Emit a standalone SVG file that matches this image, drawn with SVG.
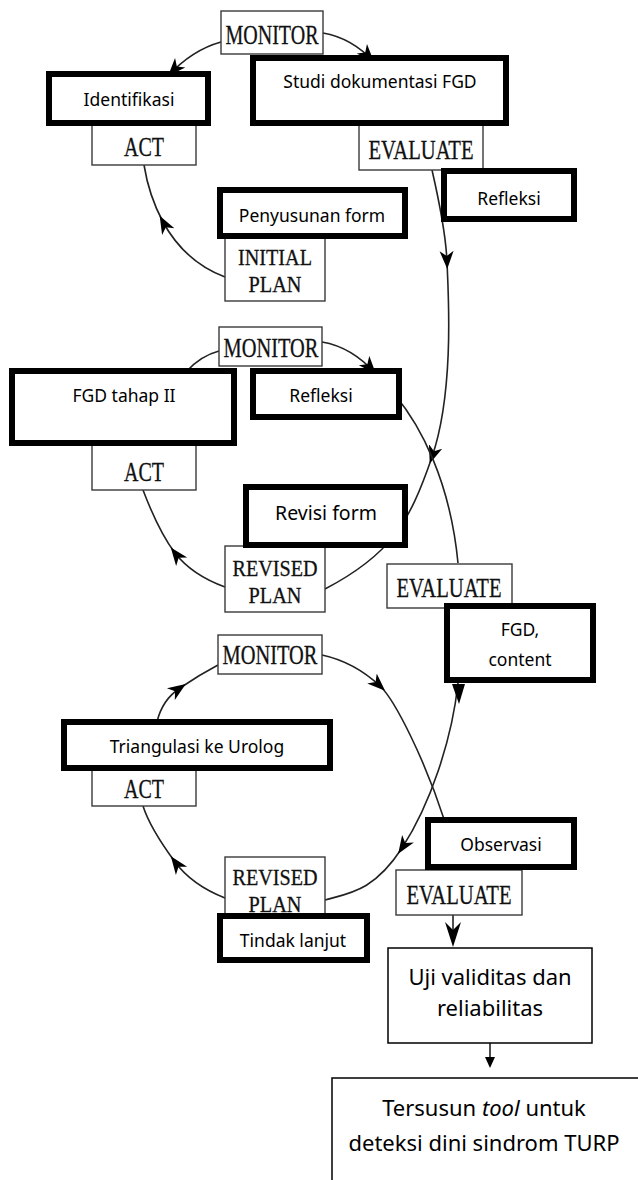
<svg xmlns="http://www.w3.org/2000/svg" width="638" height="1180" viewBox="0 0 638 1180">
<style>
.lb{fill:#fff;stroke:#3a3a3a;stroke-width:1.4}
.lt{font-family:"Liberation Serif","Times New Roman",serif;font-size:27px;fill:#111;stroke:#111;stroke-width:0.3;text-anchor:middle}
.l2{font-size:24px}
.tb{fill:#fff;stroke:#000;stroke-width:6}
.tt{font-family:"Noto Sans","Open Sans",sans-serif;font-size:17.5px;fill:#000;text-anchor:middle}
.cn{fill:none;stroke:#222;stroke-width:1.6}
.bb{fill:#fff;stroke:#000;stroke-width:1.5}
.bt{font-family:"Noto Sans","Open Sans",sans-serif;font-size:22px;fill:#000;text-anchor:middle}
.ah{fill:#000}
</style>
<defs>
<marker id="ae" viewBox="0 0 20 16" refX="18" refY="8" markerWidth="20" markerHeight="16" markerUnits="userSpaceOnUse" orient="auto"><path d="M0,1 L18,8 L0,15 L5,8 Z" fill="#000"/></marker>
<marker id="am" viewBox="0 0 20 16" refX="11" refY="8" markerWidth="20" markerHeight="16" markerUnits="userSpaceOnUse" orient="auto"><path d="M0,1 L18,8 L0,15 L5,8 Z" fill="#000"/></marker>
</defs>

<g id="connectors">
  <path class="cn" d="M221,42 Q192,50 168,76" marker-end="url(#ae)"/>
  <path class="cn" d="M323,33 Q352,38 374,62" marker-end="url(#ae)"/>
  <path class="cn" d="M225,277 Q185,262 163,222 Q149,196 144,165" marker-mid="url(#am)"/>
  <path class="cn" d="M432,170 C440,205 446,235 447,262 S455,390 432,457 S390,555 325,589" marker-mid="url(#am)"/>
  <path class="cn" d="M219,351 Q200,356 186,372"/>
  <path class="cn" d="M322,342 Q352,347 376,374" marker-end="url(#ae)"/>
  <path class="cn" d="M225,587 Q192,575 175,553 Q159,532 143,490" marker-mid="url(#am)"/>
  <path class="cn" d="M395,395 C420,425 450,480 458,563"/>
  <path class="cn" d="M458,683 C452,740 430,805 402,848 S350,893 325,900" marker-mid="url(#am)"/>
  <polygon class="ah" points="452,684 465,684 459,704"/>
  <path class="cn" d="M157,722 Q162,700 180,688 Q199,675 218,665" marker-mid="url(#am)"/>
  <path class="cn" d="M322,655 C345,660 365,672 380,686 S425,760 445,822" marker-mid="url(#am)"/>
  <path class="cn" d="M225,898 Q192,885 175,862 Q150,828 143,806" marker-mid="url(#am)"/>
  <path class="cn" d="M453,915 L453,935"/>
  <polygon class="ah" points="453,947 445,922 453,930 461,922"/>
  <path class="cn" d="M490,1043 L490,1060"/>
  <polygon class="ah" points="485,1057 495,1057 490,1068"/>
</g>

<g id="monitor1"><rect class="lb" x="221" y="11" width="102" height="43"/><text class="lt" x="272" y="44" textLength="93" lengthAdjust="spacingAndGlyphs">MONITOR</text></g>
<g id="act1"><rect class="lb" x="92" y="122" width="104" height="43"/><text class="lt" x="144" y="156" textLength="40" lengthAdjust="spacingAndGlyphs">ACT</text></g>
<g id="evaluate1"><rect class="lb" x="359" y="122" width="124" height="48"/><text class="lt" x="421" y="159" textLength="105" lengthAdjust="spacingAndGlyphs">EVALUATE</text></g>
<g id="initialplan"><rect class="lb" x="225" y="236" width="100" height="65"/><text class="lt l2" x="275" y="265" textLength="74" lengthAdjust="spacingAndGlyphs">INITIAL</text><text class="lt l2" x="275" y="292" textLength="53" lengthAdjust="spacingAndGlyphs">PLAN</text></g>

<g id="monitor2"><rect class="lb" x="219" y="327" width="103" height="39"/><text class="lt" x="271" y="357" textLength="95" lengthAdjust="spacingAndGlyphs">MONITOR</text></g>
<g id="act2"><rect class="lb" x="92" y="443" width="104" height="47"/><text class="lt" x="144" y="481" textLength="40" lengthAdjust="spacingAndGlyphs">ACT</text></g>
<g id="revisedplan2"><rect class="lb" x="225" y="546" width="100" height="66"/><text class="lt l2" x="275" y="576" textLength="85" lengthAdjust="spacingAndGlyphs">REVISED</text><text class="lt l2" x="275" y="603" textLength="53" lengthAdjust="spacingAndGlyphs">PLAN</text></g>
<g id="evaluate2"><rect class="lb" x="387" y="564" width="125" height="44"/><text class="lt" x="449" y="597" textLength="105" lengthAdjust="spacingAndGlyphs">EVALUATE</text></g>

<g id="monitor3"><rect class="lb" x="218" y="635" width="104" height="39"/><text class="lt" x="270" y="664" textLength="95" lengthAdjust="spacingAndGlyphs">MONITOR</text></g>
<g id="act3"><rect class="lb" x="92" y="768" width="104" height="38"/><text class="lt" x="144" y="798" textLength="40" lengthAdjust="spacingAndGlyphs">ACT</text></g>
<g id="revisedplan3"><rect class="lb" x="225" y="857" width="100" height="66"/><text class="lt l2" x="275" y="885" textLength="85" lengthAdjust="spacingAndGlyphs">REVISED</text><text class="lt l2" x="275" y="912" textLength="53" lengthAdjust="spacingAndGlyphs">PLAN</text></g>
<g id="evaluate3"><rect class="lb" x="396" y="870" width="126" height="45"/><text class="lt" x="459" y="904" textLength="105" lengthAdjust="spacingAndGlyphs">EVALUATE</text></g>

<g id="identifikasi"><rect class="tb" x="49" y="74" width="159" height="49"/><text class="tt" x="129" y="106">Identifikasi</text></g>
<g id="studi"><rect class="tb" x="253" y="58" width="253" height="65"/><text class="tt" x="380" y="88">Studi dokumentasi FGD</text></g>
<g id="refleksi1"><rect class="tb" x="444" y="171" width="130" height="48"/><text class="tt" x="509" y="205">Refleksi</text></g>
<g id="penyusunan"><rect class="tb" x="220" y="190" width="185" height="46"/><text class="tt" x="312" y="222">Penyusunan form</text></g>

<g id="fgd2"><rect class="tb" x="12" y="371" width="222" height="72"/><text class="tt" x="124" y="402">FGD tahap II</text></g>
<g id="refleksi2"><rect class="tb" x="253" y="371" width="146" height="46"/><text class="tt" x="321" y="402">Refleksi</text></g>
<g id="revisi"><rect class="tb" x="246" y="487" width="159" height="58"/><text class="tt" x="326" y="520" style="font-size:19.5px">Revisi form</text></g>
<g id="fgdcontent"><rect class="tb" x="447" y="606" width="146" height="74"/><text class="tt" x="520" y="636">FGD,</text><text class="tt" x="520" y="666">content</text></g>

<g id="triangulasi"><rect class="tb" x="64" y="722" width="266" height="46"/><text class="tt" x="197" y="753">Triangulasi ke Urolog</text></g>
<g id="observasi"><rect class="tb" x="428" y="820" width="146" height="47"/><text class="tt" x="501" y="851">Observasi</text></g>
<g id="tindak"><rect class="tb" x="220" y="916" width="147" height="44"/><text class="tt" x="293" y="947">Tindak lanjut</text></g>

<g id="uji"><rect class="bb" x="388" y="948" width="204" height="95"/><text class="bt" x="490" y="985">Uji validitas dan</text><text class="bt" x="490" y="1016">reliabilitas</text></g>
<g id="tersusun"><rect class="bb" x="332" y="1078" width="320" height="120"/><text class="bt" x="484" y="1116">Tersusun <tspan font-style="italic">tool</tspan> untuk</text><text class="bt" x="484" y="1151">deteksi dini sindrom TURP</text></g>
</svg>
